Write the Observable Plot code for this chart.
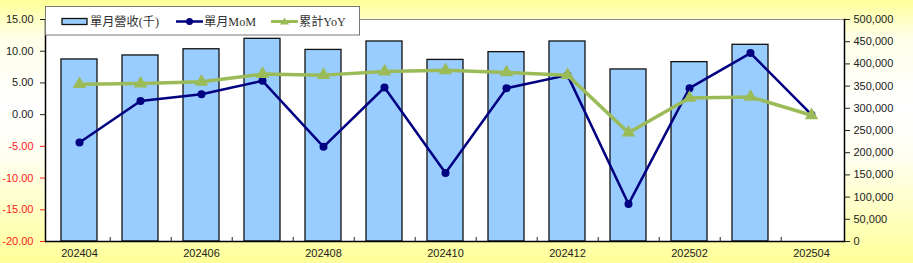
<!DOCTYPE html>
<html><head><meta charset="utf-8">
<script src="https://cdn.jsdelivr.net/npm/d3@7"></script>
<script src="https://cdn.jsdelivr.net/npm/@observablehq/plot@0.6"></script>
<style>
html,body{margin:0;padding:0;background:#fff;}
#wrap{position:relative;width:913px;height:263px;overflow:hidden;
  background:linear-gradient(to bottom,#FFFF99 0%,#FFFFE8 14%,#FFFFFF 40%,#FFFFF0 60%,#FFFF99 100%);}
#wrap > svg, #wrap > div {position:absolute;left:0;top:0;}
</style></head><body><div id="wrap"></div>
<script>
const months = ["202404","202405","202406","202407","202408","202409","202410","202411","202412","202501","202502","202503","202504"];
const revenue = [410000, 419000, 433000, 456500, 431500, 450500, 409000, 426500, 450500, 387500, 404000, 443000, null];
const mom = [-4.39, 2.16, 3.22, 5.33, -5.07, 4.28, -9.19, 4.17, 6.23, -14.1, 4.17, 9.71, 0.0];
const yoy = [4.8, 4.9, 5.17, 6.39, 6.23, 6.8, 7.0, 6.66, 6.23, -2.85, 2.63, 2.79, -0.1];
const leftTicks = [-20, -15, -10, -5, 0, 5, 10, 15];
const rightTicks = [0, 50000, 100000, 150000, 200000, 250000, 300000, 350000, 400000, 450000, 500000];
const xLabels = ["202404","202406","202408","202410","202412","202502","202504"];
const seriesNames = ["單月營收(千)", "單月MoM", "累計YoY"];

const rows = months.map((m, i) => ({month: m, revenue: revenue[i], mom: mom[i], yoy: yoy[i]}));
const W = 913, H = 263, ML = 45, MR = 69, MT = 19, MB = 22;
const step = (W - ML - MR) / months.length;
const xOpt = {type: "band", domain: months, paddingInner: 0.41, paddingOuter: 0.205, axis: null};
const base = {width: W, height: H, marginLeft: ML, marginRight: MR, marginTop: MT, marginBottom: MB,
  style: {background: "transparent", fontFamily: "'Liberation Sans', Arial, sans-serif", fontSize: "11px", color: "#222", overflow: "visible"}};

const barPlot = Plot.plot({
  ...base,
  x: xOpt,
  y: {domain: [0, 500000], axis: null},
  marks: [
    Plot.frame({fill: "white", stroke: "#8c8c8c"}),
    Plot.barY(rows.filter(d => d.revenue != null), {x: "month", y: "revenue", fill: "#99CCFF", stroke: "#111", strokeWidth: 1.3}),
    Plot.axisY(rightTicks, {anchor: "right", tickSize: 5, tickPadding: 4, tickFormat: d3.format(","), label: null}),
    Plot.frame({anchor: "right", stroke: "#000", strokeWidth: 1.5})
  ]
});

const linePlot = Plot.plot({
  ...base,
  x: xOpt,
  y: {domain: [-20, 15], axis: null},
  marks: [
    Plot.axisY(leftTicks.filter(d => d < 0), {anchor: "left", tickSize: 5, tickPadding: 7, tickFormat: d => d.toFixed(2), color: "#FF2020", label: null}),
    Plot.axisY(leftTicks.filter(d => d >= 0), {anchor: "left", tickSize: 5, tickPadding: 7, tickFormat: d => d.toFixed(2), label: null}),
    Plot.axisX(xLabels, {anchor: "bottom", tickSize: 0, tickPadding: 8, label: null}),
    Plot.axisX(months.slice(0, -1), {anchor: "bottom", tickSize: -4, dx: step / 2, tickFormat: () => "", label: null}),
    Plot.ruleY([-20], {stroke: "#000", strokeWidth: 1.5}),
    Plot.frame({anchor: "left", stroke: "#000", strokeWidth: 1.5}),
    Plot.line(rows, {x: "month", y: "mom", stroke: "#000080", strokeWidth: 2.5}),
    Plot.dot(rows, {x: "month", y: "mom", r: 4, fill: "#000080"}),
    Plot.line(rows, {x: "month", y: "yoy", stroke: "#9BBB59", strokeWidth: 3.5}),
    Plot.dot(rows, {x: "month", y: "yoy", symbol: "triangle", r: 5, fill: "#9BBB59"})
  ]
});

const wrap = document.getElementById("wrap");
wrap.appendChild(barPlot);
wrap.appendChild(linePlot);

// legend
const legend = document.createElement("div");
const ff = "Liberation Serif, Noto Sans CJK TC, serif";
legend.innerHTML = `<svg width="913" height="40" style="position:absolute;left:0;top:0">
  <rect x="45.5" y="6.5" width="314" height="28.5" fill="white" stroke="#777"/>
  <rect x="62" y="18.5" width="25" height="6" fill="#99CCFF" stroke="#111" stroke-width="1.3"/>
  <text x="90" y="26" font-family="${ff}" font-size="12.2" fill="#333">${seriesNames[0]}</text>
  <line x1="176" x2="203" y1="21.5" y2="21.5" stroke="#000080" stroke-width="2.5"/>
  <circle cx="189.5" cy="21.5" r="3.5" fill="#000080"/>
  <text x="204" y="26" font-family="${ff}" font-size="12.2" fill="#333">${seriesNames[1]}</text>
  <line x1="271" x2="298" y1="21.5" y2="21.5" stroke="#9BBB59" stroke-width="3"/>
  <path d="M284.5,17.5 L289,24.5 L280,24.5 Z" fill="#9BBB59"/>
  <text x="299" y="26" font-family="${ff}" font-size="12.2" fill="#333">${seriesNames[2]}</text>
</svg>`;
wrap.appendChild(legend);
</script>
</body></html>
